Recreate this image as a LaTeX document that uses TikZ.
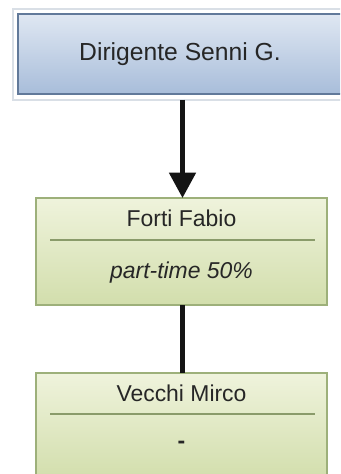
\documentclass[tikz,border=0pt]{standalone}
\usepackage{fontspec}
\setmainfont{Liberation Sans}
\usetikzlibrary{arrows.meta}
\definecolor{bluetop}{HTML}{DFE7F2}
\definecolor{bluebot}{HTML}{A8BDDA}
\definecolor{blueedge}{HTML}{61799A}
\definecolor{frameedge}{HTML}{D9DFE6}
\definecolor{greentop}{HTML}{EFF3DC}
\definecolor{greenbot}{HTML}{D2DEAC}
\definecolor{greenedge}{HTML}{9DB07A}
\definecolor{greenline}{HTML}{8A9B6A}
\tikzset{
  frame/.style={draw=frameedge, line width=0.9pt, fill=white, minimum width=250.5pt, minimum height=68.25pt, inner sep=0pt},
  bbox/.style={draw=blueedge, line width=1.2pt, top color=bluetop, bottom color=bluebot, minimum width=243pt, minimum height=60pt, inner sep=0pt, font=\fontsize{18.5}{20}\selectfont, text=black!85},
  gbox/.style={draw=greenedge, line width=1.1pt, top color=greentop, bottom color=greenbot, minimum width=218.25pt, minimum height=80.25pt, inner sep=0pt},
  gtext/.style={inner sep=0pt, font=\fontsize{17.2}{19}\selectfont, text=black!85},
  divider/.style={draw=greenline, line width=1.2pt},
  conn/.style={draw=black!92, line width=3.6pt}
}
\begin{document}
\begin{tikzpicture}[x=0.75pt, y=-0.75pt]
\useasboundingbox (0,0) rectangle (340,474);
\clip (0,0) rectangle (340,474);
\fill[white] (0,0) rectangle (340,474);
% top box
\node[frame] (frame) at (180,54.5) {};
\node[bbox] (dir) at (180,54) {Dirigente Senni G.};
% Forti box
\node[gbox] (forti) at (181.5,251.5) {};
\node[gtext] (fortiname) at (181.5,218) {Forti Fabio};
\node[gtext] (fortinote) at (181.5,273) {\itshape part-time 50\%};
\coordinate (fl) at (50,240);
\coordinate (fr) at (315,240);
\draw[divider] (fl) -- (fr);
% Vecchi box
\node[gbox] (vecchi) at (181.5,426.5) {};
\node[gtext] (vecchiname) at (181.5,393) {Vecchi Mirco};
\node[gtext] (vecchinote) at (181.5,445) {\bfseries -};
\coordinate (vl) at (50,414);
\coordinate (vr) at (315,414);
\draw[divider] (vl) -- (vr);
% connectors
\coordinate (a1) at (182.5,100);
\coordinate (a2) at (182.5,198);
\draw[conn, -{Triangle[width=19.5pt,length=19pt]}] (a1) -- (a2);
\coordinate (b1) at (182.5,305);
\coordinate (b2) at (182.5,373);
\draw[conn] (b1) -- (b2);
\end{tikzpicture}
\end{document}
